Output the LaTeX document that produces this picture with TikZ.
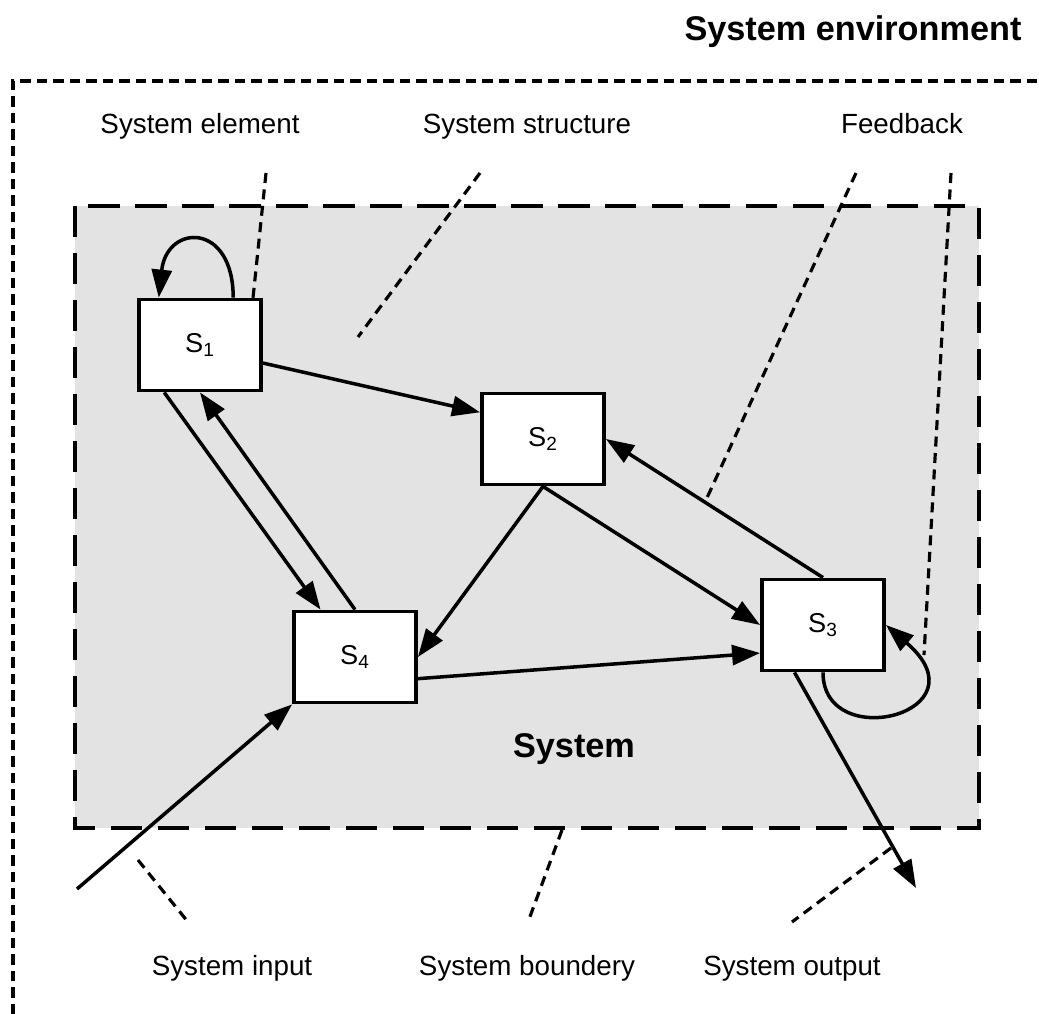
\documentclass[tikz,border=0pt]{standalone}
\usepackage{fontspec}
\setmainfont{Liberation Sans}
\usetikzlibrary{arrows.meta}
\definecolor{systemGray}{RGB}{227,227,227}
\tikzstyle{pixelGrid} = [x = .02cm, y = -.02cm]
\tikzstyle{environmentLine} = [line width = 2pt, dash pattern = on .21cm off .12cm]
\tikzstyle{boundaryStyle} = [fill = systemGray, line width = 2.4pt, dash pattern = on .63cm off .31cm]
\tikzstyle{elementBox} = [draw, fill = white, line width = 2.2pt, minimum width = 2.44cm, minimum height = 1.82cm, font = \fontsize{15.5}{18}\selectfont]
\tikzstyle{flowArrow} = [line width = 2pt, -{Triangle[length = .56cm, width = .4cm]}]
\tikzstyle{calloutLine} = [line width = 1.8pt, dash pattern = on .2cm off .13cm]
\tikzstyle{labelText} = [anchor = base, inner sep = 0pt, font = \fontsize{15.8}{19}\selectfont]
\tikzstyle{titleText} = [anchor = base, inner sep = 0pt, font = \fontsize{19.5}{23}\selectfont\bfseries]
\newcommand{\systemElement}[3]{\node [elementBox] (#1) at (#2) {S\textsubscript{#3}};}
\newcommand{\callout}[3]{
  \coordinate (#1Top) at (#2);
  \coordinate (#1End) at (#3);
  \draw [calloutLine] (#1Top) -- (#1End);
}

\begin{document}
\begin{tikzpicture}[pixelGrid]
  \useasboundingbox (0,0) rectangle (1039,1014);
  % environment and system boundary
  \draw [environmentLine] (13,1014) -- (13,81) -- (1039,81);
  \filldraw [boundaryStyle] (75,206) rectangle (979,828);
  \node [titleText] (environmentTitle) at (853,40) {System environment};
  \node [titleText] (systemTitle) at (574,757) {System};

  % labels
  \node [labelText] (elementLabel) at (200,133) {System element};
  \node [labelText] (structureLabel) at (527,133) {System structure};
  \node [labelText] (feedbackLabel) at (902,133) {Feedback};
  \node [labelText] (inputLabel) at (232,975) {System input};
  \node [labelText] (boundaryLabel) at (527,975) {System boundery};
  \node [labelText] (outputLabel) at (792,975) {System output};

  \callout{element}{266,173}{253,298}
  \callout{structure}{480,173}{358,337}
  \callout{feedbackA}{856,173}{706,500}
  \callout{feedbackB}{951,173}{924,655}
  \callout{input}{138,860}{188,922}
  \callout{boundary}{562,830}{528,922}
  \callout{output}{891,848}{792,922}

  % elements
  \systemElement{s1}{200,345}{1}
  \systemElement{s2}{543,439}{2}
  \systemElement{s4}{355,657}{4}
  \systemElement{s3}{823,625}{3}

  % relations
  \draw [flowArrow] (s1.55) .. controls +(0,-76) and +(8,-74) .. (s1.131);
  \draw [flowArrow] (s1.-16) -- (s2.157);
  \draw [flowArrow] (s1.233) -- (s4.126);
  \draw [flowArrow] (s4.north) -- (s1.south);
  \draw [flowArrow] (s2.south) -- (s4.east);
  \draw [flowArrow] (s2.south) -- (s3.west);
  \draw [flowArrow] (s3.north) -- (s2.east);
  \draw [flowArrow] (s4.-19) -- (s3.204);
  \draw [flowArrow] (s3.south) .. controls +(0,82) and +(102,88) .. (s3.east);

  % input and output
  \coordinate (inputStart) at (77,889);
  \coordinate (outputEnd) at (916,888);
  \draw [flowArrow] (inputStart) -- (s4.south west);
  \draw [flowArrow] (s3.239) -- (outputEnd);
\end{tikzpicture}
\end{document}
